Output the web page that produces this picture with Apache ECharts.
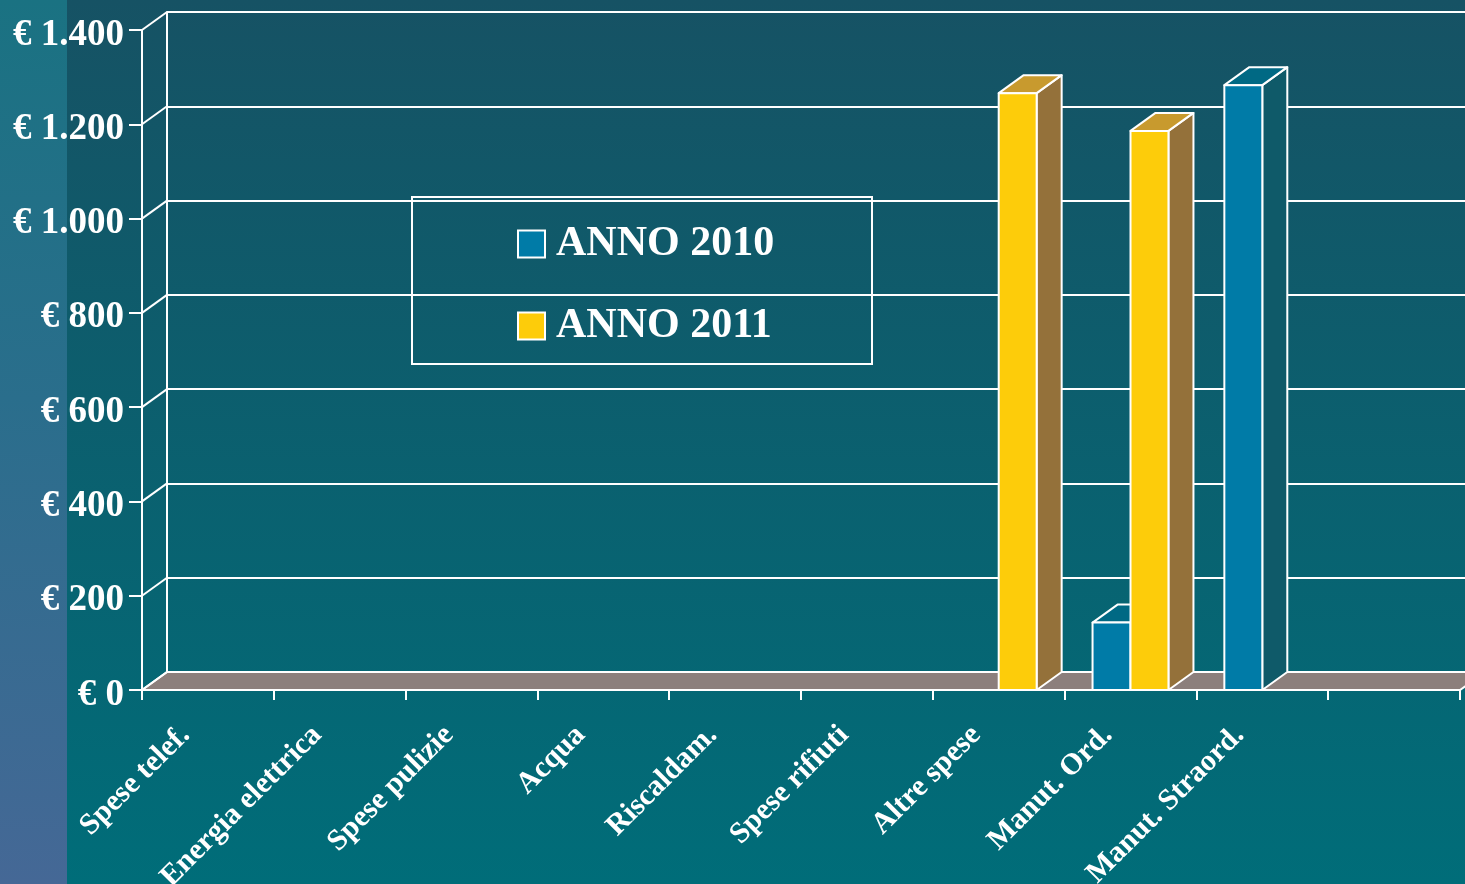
<!DOCTYPE html>
<html>
<head>
<meta charset="utf-8">
<script src="https://cdn.jsdelivr.net/npm/echarts@6/dist/echarts.min.js"></script>
<style>
html,body{margin:0;padding:0;}
#chart{width:1465px;height:884px;}
</style>
</head>
<body>
<div id="chart"></div>
<script>
// ---- data ----
var categories = ['Spese telef.', 'Energia elettrica', 'Spese pulizie', 'Acqua', 'Riscaldam.', 'Spese rifiuti', 'Altre spese', 'Manut. Ord.', 'Manut. Straord.', ''];
var values2010 = [0, 0, 0, 0, 0, 0, 0, 143, 1283, 0];
var values2011 = [0, 0, 0, 0, 0, 0, 1266, 1186, 0, 0];
var seriesNames = ['ANNO 2010', 'ANNO 2011'];
var yTicks = [0, 200, 400, 600, 800, 1000, 1200, 1400];

// ---- style ----
var DX = 25, DY = 18;
var BAR_RATIO = 0.288;
var FONT = "'Liberation Serif', 'DejaVu Serif', serif";

function fmtEuro(v) {
  var s = v >= 1000 ? Math.floor(v / 1000) + '.' + String(v % 1000).padStart(3, '0') : String(v);
  return '{v|€ ' + s + '}';
}

function barRenderer(side, colors) {
  return function (params, api) {
    var cat = api.value(0), val = api.value(1);
    if (!val) return null;
    var base = api.coord([cat, 0]);
    var top = api.coord([cat, val]);
    var band = api.size([1, 0])[0];
    var w = band * BAR_RATIO;
    var x0 = side < 0 ? base[0] - w : base[0];
    var x1 = x0 + w;
    var y0 = base[1], y1 = top[1];
    var st = {stroke: '#ffffff', lineWidth: 2, lineJoin: 'round'};
    return {
      type: 'group',
      children: [
        {type: 'polygon', shape: {points: [[x1, y0], [x1 + DX, y0 - DY], [x1 + DX, y1 - DY], [x1, y1]]},
          style: Object.assign({fill: colors.side}, st)},
        {type: 'polygon', shape: {points: [[x0, y1], [x1, y1], [x1 + DX, y1 - DY], [x0 + DX, y1 - DY]]},
          style: Object.assign({fill: colors.top}, st)},
        {type: 'rect', shape: {x: x0, y: y1, width: w, height: y0 - y1},
          style: Object.assign({fill: colors.front}, st)}
      ]
    };
  };
}

var chart = echarts.init(document.getElementById('chart'));
var option = {
  animation: false,
  backgroundColor: {
    type: 'linear', x: 0, y: 0, x2: 0, y2: 1,
    colorStops: [{offset: 0, color: '#165264'}, {offset: 1, color: '#006d79'}]
  },
  graphic: [
    {type: 'rect', z: -10, shape: {x: 0, y: 0, width: 67, height: 884},
      style: {fill: {type: 'linear', x: 0, y: 0, x2: 0, y2: 1,
        colorStops: [{offset: 0, color: '#1a7282'}, {offset: 0.45, color: '#2a6e8c'}, {offset: 1, color: '#456896'}]}}},
    {type: 'rect', z: 5, shape: {x: 412, y: 197, width: 460, height: 167},
      style: {fill: 'none', stroke: '#ffffff', lineWidth: 2}}
  ],
  legend: {
    data: seriesNames,
    orient: 'vertical',
    left: 512, top: 218,
    icon: 'rect',
    itemWidth: 27, itemHeight: 27,
    itemGap: 40,
    itemStyle: {borderColor: '#ffffff', borderWidth: 2},
    textStyle: {color: '#ffffff', fontFamily: FONT, fontWeight: 'bold', fontSize: 42, padding: [0, 0, 0, 6]}
  },
  grid: [
    {left: 142, right: 5, top: 30, bottom: 194, outerBoundsMode: 'none', containLabel: false},
    {left: 167, top: 12, width: 1340, height: 660, outerBoundsMode: 'none', containLabel: false}
  ],
  xAxis: [
    {type: 'category', gridIndex: 0, data: categories, boundaryGap: true,
      axisLine: {show: true, lineStyle: {color: '#ffffff', width: 2}},
      axisTick: {show: true, length: 10, lineStyle: {color: '#ffffff', width: 2}},
      axisLabel: {interval: 0, rotate: 45, margin: 18, padding: [0, 32, 0, 0], color: '#ffffff',
        fontFamily: FONT, fontSize: 30, fontWeight: 'bold'},
      splitLine: {show: false}},
    {type: 'category', gridIndex: 1, data: categories, show: false}
  ],
  yAxis: [
    {type: 'value', gridIndex: 0, min: 0, max: 1400, interval: 200,
      axisLine: {show: true, lineStyle: {color: '#ffffff', width: 2}},
      axisTick: {show: true, length: 13, lineStyle: {color: '#ffffff', width: 2}},
      axisLabel: {margin: 18, color: '#ffffff', fontFamily: FONT, fontSize: 37, fontWeight: 'bold',
        formatter: fmtEuro,
        rich: {v: {color: '#ffffff', fontFamily: FONT, fontSize: 37, fontWeight: 'bold', padding: [10, 0, 0, 0]}}},
      splitLine: {show: false}},
    {type: 'value', gridIndex: 1, min: 0, max: 1400, interval: 200,
      axisLine: {show: true, lineStyle: {color: '#ffffff', width: 2}},
      axisTick: {show: false}, axisLabel: {show: false},
      splitLine: {show: true, lineStyle: {color: '#ffffff', width: 2}}}
  ],
  series: [
    {type: 'custom', name: 'floor', xAxisIndex: 0, yAxisIndex: 0, z: 1, silent: true,
      data: [[0, 0]],
      renderItem: function (params, api) {
        var cs = params.coordSys;
        var yb = api.coord([0, 0])[1];
        var xl = cs.x, xr = cs.x + cs.width;
        return {type: 'polygon', shape: {points: [[xl, yb], [xr, yb], [xr + DX, yb - DY], [xl + DX, yb - DY]]},
          style: {fill: '#8c7f7c', stroke: '#ffffff', lineWidth: 2}};
      }},
    {type: 'custom', name: 'sidewall', xAxisIndex: 0, yAxisIndex: 0, z: 1, silent: true,
      data: yTicks.map(function (v) { return [0, v]; }),
      renderItem: function (params, api) {
        var cs = params.coordSys;
        var y = api.coord([0, api.value(1)])[1];
        return {type: 'line', shape: {x1: cs.x, y1: y, x2: cs.x + DX, y2: y - DY},
          style: {stroke: '#ffffff', lineWidth: 2}};
      }},
    {type: 'custom', name: seriesNames[0], xAxisIndex: 0, yAxisIndex: 0, z: 2,
      itemStyle: {color: '#007ba7'},
      data: values2010.map(function (v, i) { return [i, v]; }),
      renderItem: barRenderer(-1, {front: '#007ba7', top: '#006984', side: '#0f5a69'})},
    {type: 'custom', name: seriesNames[1], xAxisIndex: 0, yAxisIndex: 0, z: 3,
      itemStyle: {color: '#fdcc0a'},
      data: values2011.map(function (v, i) { return [i, v]; }),
      renderItem: barRenderer(1, {front: '#fdcc0a', top: '#c89a2e', side: '#94713a'})}
  ]
};
chart.setOption(option);
</script>
</body>
</html>
